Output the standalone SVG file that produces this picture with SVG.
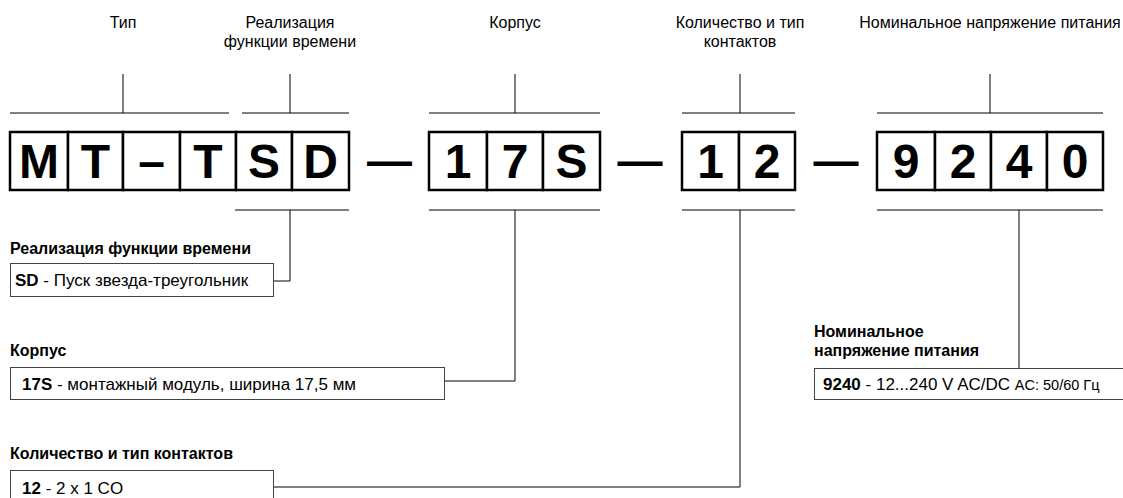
<svg xmlns="http://www.w3.org/2000/svg" width="1123" height="498" viewBox="0 0 1123 498">
<style>
text{font-family:"Liberation Sans",Arial,sans-serif;fill:#000}
.top{font-size:16px;text-anchor:middle}
.big{font-size:48px;font-weight:bold;text-anchor:middle}
.cell{fill:#fff;stroke:#000;stroke-width:2.5}
.thin{stroke:#000;stroke-width:1;fill:none}
.lbl{font-size:16px;font-weight:bold}
.desc{font-size:17px}
.small{font-size:14.5px}
.box{fill:#fff;stroke:#444;stroke-width:1}
</style>
<rect width="1123" height="498" fill="#fff"/>
<g id="connectors">
<path class="thin" d="M123 74V113M10 113H229M290 74V113M242 113H349M515 74V113M429 113H600M740 74V113M682 113H795M990 74V113M877 113H1103"/>
<path class="thin" d="M235 210H349M429 210H600M682 210H795M877 210H1103"/>
<path class="thin" d="M290 210V281H274"/>
<path class="thin" d="M515 210V381H445"/>
<path class="thin" d="M740 210V487H274"/>
<path class="thin" d="M1019 210V369"/>
</g>
<g id="top-labels">
<text class="top" x="123" y="28">Тип</text>
<text class="top" x="290" y="28">Реализация</text>
<text class="top" x="290" y="47">функции времени</text>
<text class="top" x="515" y="28">Корпус</text>
<text class="top" x="740" y="28">Количество и тип</text>
<text class="top" x="740" y="47">контактов</text>
<text class="top" x="990" y="28">Номинальное напряжение питания</text>
</g>
<g id="code-type">
<rect class="cell" x="10" y="132" width="58" height="58"/>
<rect class="cell" x="68" y="132" width="55" height="58"/>
<rect class="cell" x="123" y="132" width="57" height="58"/>
<rect class="cell" x="180" y="132" width="56" height="58"/>
<text class="big" x="39" y="178">M</text>
<text class="big" x="95.5" y="178">T</text>
<text class="big" x="151.5" y="178">–</text>
<text class="big" x="208" y="178">T</text>
</g>
<g id="code-function">
<rect class="cell" x="236" y="132" width="56" height="58"/>
<rect class="cell" x="292" y="132" width="57" height="58"/>
<text class="big" x="264" y="178">S</text>
<text class="big" x="320.5" y="178">D</text>
</g>
<g id="sep1"><text class="big" x="389.5" y="176" style="font-size:45px">—</text></g>
<g id="code-housing">
<rect class="cell" x="429" y="132" width="58" height="58"/>
<rect class="cell" x="487" y="132" width="56" height="58"/>
<rect class="cell" x="543" y="132" width="57" height="58"/>
<text class="big" x="458" y="178">1</text>
<text class="big" x="515" y="178">7</text>
<text class="big" x="571.5" y="178">S</text>
</g>
<g id="sep2"><text class="big" x="640" y="176" style="font-size:45px">—</text></g>
<g id="code-contacts">
<rect class="cell" x="682" y="132" width="57" height="58"/>
<rect class="cell" x="739" y="132" width="56" height="58"/>
<text class="big" x="710.5" y="178">1</text>
<text class="big" x="767" y="178">2</text>
</g>
<g id="sep3"><text class="big" x="836" y="176" style="font-size:45px">—</text></g>
<g id="code-voltage">
<rect class="cell" x="877" y="132" width="58" height="58"/>
<rect class="cell" x="935" y="132" width="56" height="58"/>
<rect class="cell" x="991" y="132" width="56" height="58"/>
<rect class="cell" x="1047" y="132" width="56" height="58"/>
<text class="big" x="906" y="178">9</text>
<text class="big" x="963" y="178">2</text>
<text class="big" x="1019" y="178">4</text>
<text class="big" x="1075" y="178">0</text>
</g>
<g id="desc-function">
<text class="lbl" x="10" y="254">Реализация функции времени</text>
<rect class="box" x="10.5" y="263.5" width="263" height="33"/>
<text class="desc" x="15" y="286"><tspan font-weight="bold">SD</tspan> - Пуск звезда-треугольник</text>
</g>
<g id="desc-housing">
<text class="lbl" x="10" y="356">Корпус</text>
<rect class="box" x="10.5" y="367.5" width="434" height="32"/>
<text class="desc" x="22" y="390"><tspan font-weight="bold">17S</tspan> - монтажный модуль, ширина 17,5 мм</text>
</g>
<g id="desc-contacts">
<text class="lbl" x="10" y="459">Количество и тип контактов</text>
<rect class="box" x="10.5" y="470.5" width="263" height="33"/>
<text class="desc" x="22" y="494"><tspan font-weight="bold">12</tspan> - 2 x 1 CO</text>
</g>
<g id="desc-voltage">
<text class="lbl" x="814" y="337">Номинальное</text>
<text class="lbl" x="814" y="356">напряжение питания</text>
<rect class="box" x="814.5" y="368.5" width="320" height="31"/>
<text class="desc" x="823" y="390"><tspan font-weight="bold">9240</tspan> - 12...240 V AC/DC <tspan class="small">AC: 50/60 Гц</tspan></text>
</g>
</svg>
